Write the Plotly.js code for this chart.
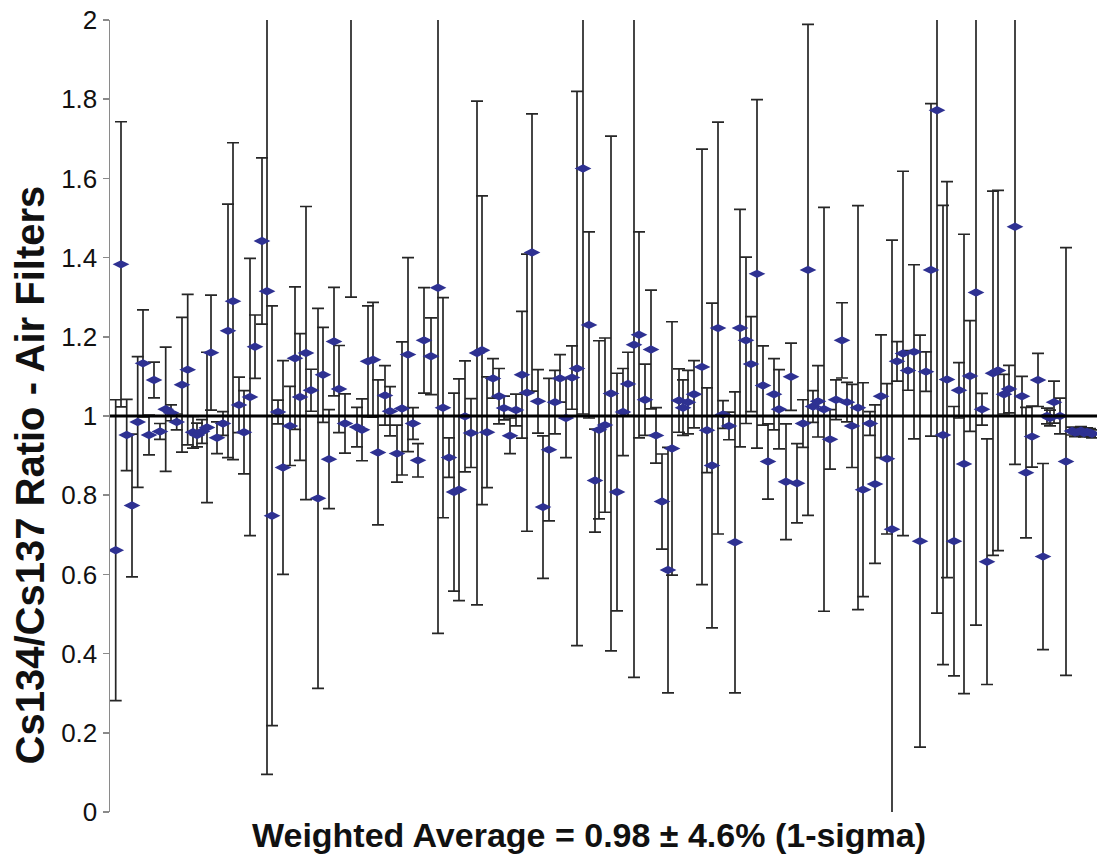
<!DOCTYPE html>
<html>
<head>
<meta charset="utf-8">
<script src="https://cdn.plot.ly/plotly-3.0.1.min.js"></script>
<style>
  html, body { margin: 0; padding: 0; background: #ffffff; }
  #chart { width: 1097px; height: 856px; }
</style>
</head>
<body>
<div id="chart"></div>
<script>
// Sample position (ordering along the series)
const samplePos = [
  115.7, 121, 126.7, 132, 137.7, 143, 149, 154, 160, 165.7,
  171, 176.7, 182, 187.7, 193, 197, 202, 207, 211, 217,
  223, 228, 233, 239, 244, 250, 255, 262, 267, 272,
  278, 283, 290, 295, 300, 306, 311, 318, 323, 329,
  334, 339, 345, 351, 357, 362, 368, 373, 378, 385,
  390, 397, 402, 408, 413, 418, 424, 431, 438, 443,
  449, 454, 459, 465, 471, 477, 482, 487, 493, 499,
  504, 510, 516, 522, 527, 532, 538, 543, 549, 555,
  560, 566, 572, 577, 583, 589, 595, 599, 605, 611,
  617, 623, 628, 634, 639, 645, 651, 656, 662, 668,
  672, 679, 683, 688, 694, 702, 707, 712, 718, 723,
  729, 735, 740, 746, 751, 757, 763, 768, 774, 779,
  786, 791, 797, 803, 808, 813, 818, 824, 830, 836,
  842, 847, 852, 858, 863, 870, 875, 881, 887, 892,
  897, 903, 908, 914, 920, 926, 931, 937, 943, 947,
  954, 959, 964, 970, 976, 982, 987, 993, 998, 1004,
  1009, 1015, 1022, 1026, 1032, 1038, 1043, 1047, 1050, 1054,
  1060, 1066, 1072, 1075, 1078, 1081, 1084, 1087, 1090, 1092
];

// Cs134/Cs137 ratio for each air filter
const ratio = [
  0.661, 1.383, 0.952, 0.774, 0.985, 1.133, 0.952, 1.091, 0.961, 1.017,
  1.008, 0.985, 1.079, 1.117, 0.959, 0.952, 0.961, 0.971, 1.160, 0.945,
  0.981, 1.215, 1.290, 1.028, 0.959, 1.048, 1.175, 1.442, 1.315, 0.748,
  1.010, 0.870, 0.975, 1.146, 1.048, 1.159, 1.065, 0.792, 1.104, 0.891,
  1.188, 1.068, 0.981, 2.400, 0.972, 0.965, 1.138, 1.142, 0.908, 1.052,
  1.012, 0.905, 1.019, 1.155, 0.981, 0.888, 1.191, 1.151, 1.324, 1.021,
  0.895, 0.808, 0.814, 0.999, 0.957, 1.159, 1.166, 0.959, 1.095, 1.050,
  1.020, 0.950, 1.015, 1.104, 1.059, 1.413, 1.037, 0.770, 0.915, 1.035,
  1.095, 0.995, 1.097, 1.120, 1.625, 1.230, 0.837, 0.965, 0.977, 1.057,
  0.808, 1.010, 1.081, 1.180, 1.205, 1.041, 1.168, 0.951, 0.784, 0.611,
  0.918, 1.039, 1.021, 1.035, 1.055, 1.124, 0.964, 0.875, 1.222, 1.004,
  0.975, 0.681, 1.222, 1.191, 1.131, 1.359, 1.077, 0.885, 1.055, 1.017,
  0.834, 1.099, 0.830, 0.981, 1.369, 1.024, 1.037, 1.017, 0.941, 1.041,
  1.191, 1.035, 0.975, 1.021, 0.814, 0.981, 0.828, 1.050, 0.892, 0.714,
  1.138, 1.158, 1.115, 1.162, 0.684, 1.112, 1.369, 1.772, 0.952, 1.092,
  0.684, 1.065, 0.879, 1.101, 1.312, 1.017, 0.632, 1.108, 1.115, 1.055,
  1.068, 1.478, 1.050, 0.857, 0.948, 1.091, 0.645, 1.000, 0.995, 1.035,
  1.000, 0.885, 0.962, 0.958, 0.960, 0.963, 0.957, 0.960, 0.958, 0.955
];

// 1-sigma uncertainty of each ratio
const sigma = [
  0.380, 0.360, 0.090, 0.180, 0.165, 0.135, 0.050, 0.045, 0.020, 0.157,
  0.020, 0.020, 0.170, 0.190, 0.040, 0.030, 0.030, 0.190, 0.145, 0.040,
  0.030, 0.320, 0.400, 0.070, 0.105, 0.350, 0.080, 0.210, 1.220, 0.530,
  0.030, 0.270, 0.100, 0.180, 0.160, 0.370, 0.053, 0.480, 0.120, 0.125,
  0.137, 0.110, 0.075, 1.100, 0.050, 0.078, 0.140, 0.145, 0.183, 0.075,
  0.062, 0.072, 0.168, 0.245, 0.040, 0.042, 0.133, 0.097, 0.873, 0.278,
  0.050, 0.250, 0.280, 0.140, 0.087, 0.636, 0.390, 0.140, 0.050, 0.070,
  0.030, 0.045, 0.040, 0.160, 0.350, 0.350, 0.080, 0.180, 0.180, 0.080,
  0.060, 0.100, 0.080, 0.700, 0.620, 0.235, 0.130, 0.225, 0.220, 0.650,
  0.300, 0.110, 0.080, 0.840, 0.260, 0.090, 0.150, 0.070, 0.120, 0.310,
  0.320, 0.080, 0.070, 0.080, 0.085, 0.550, 0.107, 0.410, 0.520, 0.035,
  0.035, 0.380, 0.300, 0.210, 0.120, 0.440, 0.100, 0.095, 0.090, 0.100,
  0.146, 0.085, 0.100, 0.060, 0.620, 0.040, 0.090, 0.510, 0.075, 0.050,
  0.095, 0.050, 0.105, 0.510, 0.270, 0.030, 0.200, 0.155, 0.190, 0.730,
  0.050, 0.460, 0.050, 0.220, 0.520, 0.050, 0.420, 1.270, 0.580, 0.500,
  0.340, 0.070, 0.580, 0.140, 0.840, 0.040, 0.310, 0.460, 0.455, 0.050,
  0.060, 0.600, 0.050, 0.165, 0.077, 0.067, 0.235, 0.020, 0.020, 0.053,
  0.045, 0.540, 0.010, 0.010, 0.010, 0.010, 0.010, 0.010, 0.010, 0.010
];

const yTickVals = [0, 0.2, 0.4, 0.6, 0.8, 1, 1.2, 1.4, 1.6, 1.8, 2];
const yTickText = ['0', '0.2', '0.4', '0.6', '0.8', '1', '1.2', '1.4', '1.6', '1.8', '2'];
const referenceRatio = 1;

const yTitle = 'Cs134/Cs137 Ratio - Air Filters';
const xTitle = 'Weighted Average = 0.98 \u00B1 4.6% (1-sigma)';

const FONT = '"Liberation Sans", Arial, sans-serif';

const trace = {
  type: 'scatter',
  mode: 'markers',
  x: samplePos,
  y: ratio,
  error_y: {
    type: 'data',
    array: sigma,
    visible: true,
    color: '#262626',
    thickness: 1.7,
    width: 6
  },
  marker: {
    symbol: 'diamond-wide',
    size: 12,
    color: '#2e3192',
    line: { width: 0 }
  },
  cliponaxis: true,
  hoverinfo: 'x+y'
};

const layout = {
  width: 1097,
  height: 856,
  margin: { l: 110, r: 0, t: 20, b: 44 },
  paper_bgcolor: '#ffffff',
  plot_bgcolor: '#ffffff',
  showlegend: false,
  font: { family: FONT, color: '#111111' },
  xaxis: {
    range: [110, 1097],
    showgrid: false,
    zeroline: false,
    showline: false,
    ticks: '',
    showticklabels: false,
    automargin: false
  },
  yaxis: {
    range: [0, 2],
    tickvals: yTickVals,
    ticktext: yTickText,
    showgrid: false,
    zeroline: false,
    showline: true,
    linecolor: '#8a8a8a',
    linewidth: 1.5,
    ticks: 'outside',
    ticklen: 6,
    tickwidth: 1.5,
    tickcolor: '#8a8a8a',
    tickfont: { size: 26, family: FONT, color: '#111111' },
    automargin: false
  },
  annotations: [
    {
      text: yTitle,
      xref: 'paper', yref: 'paper',
      x: -0.081, y: 0.425,
      xanchor: 'center', yanchor: 'middle',
      textangle: -90,
      showarrow: false,
      font: { size: 40, family: FONT, color: '#111111', weight: 'bold' }
    },
    {
      text: xTitle,
      xref: 'paper', yref: 'paper',
      x: 0.485, y: -0.029,
      xanchor: 'center', yanchor: 'middle',
      showarrow: false,
      font: { size: 34, family: FONT, color: '#111111', weight: 'bold' }
    }
  ],
  shapes: [{
    type: 'line',
    xref: 'paper', x0: 0, x1: 1,
    yref: 'y', y0: referenceRatio, y1: referenceRatio,
    line: { color: '#000000', width: 3 },
    layer: 'above'
  }]
};

Plotly.newPlot('chart', [trace], layout, { staticPlot: true, displayModeBar: false });
</script>
</body>
</html>
